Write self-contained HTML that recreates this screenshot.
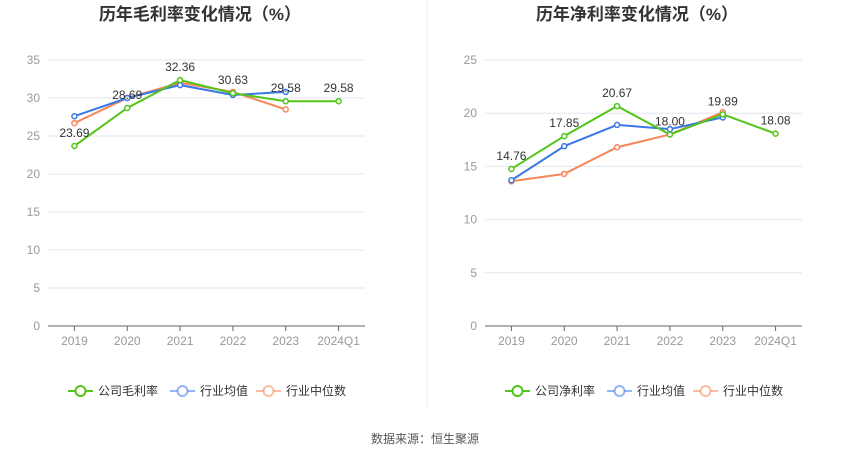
<!DOCTYPE html>
<html><head><meta charset="utf-8">
<style>
body{margin:0;background:#fff;width:850px;height:459px;overflow:hidden;font-family:"Liberation Sans","Noto Sans CJK SC",sans-serif;}
svg text{font-family:"Liberation Sans","Noto Sans CJK SC",sans-serif;}
</style></head>
<body>
<svg id="chart" width="850" height="459">
<line x1="427" y1="0" x2="427" y2="408" stroke="#eeeeee"/>
<text x="200" y="20" text-anchor="middle" font-size="17" font-weight="bold" fill="#333">历年毛利率变化情况（%）</text>
<text x="637" y="20" text-anchor="middle" font-size="17" font-weight="bold" fill="#333">历年净利率变化情况（%）</text>
<text x="425" y="443" text-anchor="middle" font-size="12" fill="#555">数据来源：恒生聚源</text>
</svg>
<script>
const categories=["2019","2020","2021","2022","2023","2024Q1"];
const grossCompany=[23.69,28.69,32.36,30.63,29.58,29.58];
const grossIndustryAvg=[27.6,30.0,31.7,30.4,30.8];
const grossIndustryMedian=[26.7,30.0,32.0,30.8,28.5];
const grossTicks=[0,5,10,15,20,25,30,35];
const netCompany=[14.76,17.85,20.67,18.00,19.89,18.08];
const netIndustryAvg=[13.7,16.9,18.9,18.5,19.6];
const netIndustryMedian=[13.6,14.3,16.8,18.0,20.1];
const netTicks=[0,5,10,15,20,25];
const legendNames1=["公司毛利率","行业均值","行业中位数"];
const legendNames2=["公司净利率","行业均值","行业中位数"];
const colors=["#52c41a","#3a78e6","#f5875a"];
const svg=document.getElementById('chart');
const NS="http://www.w3.org/2000/svg";
function mk(tag,attrs,parent){const e=document.createElementNS(NS,tag);for(const k in attrs)e.setAttribute(k,attrs[k]);(parent||svg).appendChild(e);return e;}
function drawChart(prefix,x0,x1,yTop,yBot,ticks,series,labels,legendNames,legendX){
  const max=ticks[ticks.length-1];
  const step=(x1-x0)/categories.length;
  const xs=i=>x0+step*(i+0.5);
  const ys=v=>yBot-(v/max)*(yBot-yTop);
  const g=mk('g',{});
  
  
  ticks.forEach(t=>{
    const l=mk('line',{x1:x0,x2:x1,y1:ys(t),y2:ys(t),stroke:t===0?'#666':'#e0e6f1','stroke-width':1},g);
    
    
    const tx=mk('text',{x:x0-8,y:ys(t)+4,'text-anchor':'end','font-size':12,fill:'#999'},g);
    tx.textContent=t;
    
    
  });
  categories.forEach((c,i)=>{
    const tk=mk('line',{x1:xs(i),x2:xs(i),y1:yBot,y2:yBot+5,stroke:'#666'},g);
    
    
    const tx=mk('text',{x:xs(i),y:yBot+19,'text-anchor':'middle','font-size':12,fill:'#999'},g);
    tx.textContent=c;
    
    
  });
  [2,1,0].forEach(si=>{
    const d=series[si];
    const pts=d.map((v,i)=>xs(i)+','+ys(v)).join(' ');
    const pl=mk('polyline',{points:pts,fill:'none',stroke:colors[si],'stroke-width':2},g);
    
    
    d.forEach((v,i)=>{
      const c=mk('circle',{cx:xs(i),cy:ys(v),r:2.5,fill:'#fff',stroke:colors[si],'stroke-width':1.5},g);
      
      
    });
  });
  series[0].forEach((v,i)=>{
    const tx=mk('text',{x:xs(i),y:ys(v)-9,'text-anchor':'middle','font-size':12,fill:'#333'},g);
    tx.textContent=v.toFixed(2);
    
    
  });
  const lx=[legendX,legendX+102,legendX+188];
  legendNames.forEach((n,i)=>{
    const lg=mk('g',{},g);
    
    
    mk('line',{x1:lx[i],x2:lx[i]+25,y1:391,y2:391,stroke:i===0?colors[i]:colors[i],'stroke-opacity':i===0?1:0.55,'stroke-width':2},lg);
    mk('circle',{cx:lx[i]+12.5,cy:391,r:5,fill:'#fff',stroke:colors[i],'stroke-opacity':i===0?1:0.55,'stroke-width':2},lg);
    const t=mk('text',{x:lx[i]+30,y:395,'font-size':12,fill:'#333'},lg);
    t.textContent=n;
  });
}
drawChart('gross',48,365,60,326,grossTicks,[grossCompany,grossIndustryAvg,grossIndustryMedian],null,legendNames1,68);
drawChart('net',485,802,60,326,netTicks,[netCompany,netIndustryAvg,netIndustryMedian],null,legendNames2,505);
</script>
</body></html>
